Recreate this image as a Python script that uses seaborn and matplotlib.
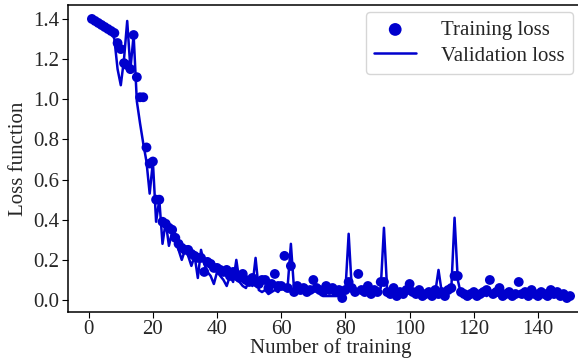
import pandas as pd
import numpy as np
import seaborn as sns
import matplotlib.pyplot as plt

# epochs 1..150
epochs = list(range(1, 151))

# training loss (dots)
train_loss = [
    1.40, 1.39, 1.38, 1.37, 1.36, 1.35, 1.34, 1.33, 1.28, 1.25,
    1.18, 1.17, 1.15, 1.32, 1.11, 1.01, 1.01, 0.76, 0.68, 0.69,
    0.50, 0.50, 0.39, 0.38, 0.36, 0.35, 0.31, 0.28, 0.26, 0.25,
    0.25, 0.23, 0.22, 0.21, 0.21, 0.14, 0.19, 0.18, 0.16, 0.16,
    0.15, 0.14, 0.15, 0.12, 0.14, 0.12, 0.11, 0.13, 0.10, 0.09,
    0.11, 0.09, 0.08, 0.10, 0.10, 0.06, 0.08, 0.13, 0.07, 0.07,
    0.22, 0.06, 0.17, 0.04, 0.07, 0.05, 0.06, 0.04, 0.05, 0.10,
    0.06, 0.05, 0.04, 0.07, 0.05, 0.06, 0.04, 0.05, 0.01, 0.05,
    0.09, 0.06, 0.04, 0.13, 0.05, 0.04, 0.07, 0.03, 0.05, 0.04,
    0.09, 0.09, 0.04, 0.03, 0.06, 0.02, 0.04, 0.03, 0.05, 0.08,
    0.04, 0.03, 0.05, 0.02, 0.03, 0.04, 0.02, 0.05, 0.03, 0.04,
    0.02, 0.05, 0.06, 0.12, 0.12, 0.04, 0.03, 0.02, 0.03, 0.04,
    0.02, 0.03, 0.04, 0.05, 0.10, 0.03, 0.04, 0.06, 0.02, 0.03,
    0.04, 0.02, 0.03, 0.09, 0.03, 0.04, 0.02, 0.05, 0.03, 0.02,
    0.04, 0.03, 0.02, 0.05, 0.03, 0.04, 0.02, 0.03, 0.01, 0.02,
]

# validation loss (line)
val_loss = [
    1.40, 1.39, 1.38, 1.37, 1.36, 1.35, 1.34, 1.30, 1.15, 1.07,
    1.20, 1.39, 1.15, 1.32, 0.99, 0.88, 0.78, 0.69, 0.53, 0.69,
    0.39, 0.50, 0.28, 0.39, 0.27, 0.34, 0.30, 0.25, 0.20, 0.25,
    0.22, 0.17, 0.22, 0.11, 0.25, 0.18, 0.14, 0.12, 0.08, 0.14,
    0.12, 0.10, 0.07, 0.12, 0.09, 0.20, 0.09, 0.07, 0.06, 0.10,
    0.07, 0.21, 0.05, 0.04, 0.05, 0.03, 0.04, 0.05, 0.04, 0.06,
    0.05, 0.07, 0.28, 0.05, 0.05, 0.04, 0.05, 0.06, 0.05, 0.04,
    0.05, 0.04, 0.02, 0.02, 0.02, 0.02, 0.02, 0.02, 0.03, 0.05,
    0.33, 0.05, 0.04, 0.05, 0.04, 0.03, 0.04, 0.05, 0.04, 0.05,
    0.06, 0.36, 0.05, 0.04, 0.03, 0.04, 0.03, 0.02, 0.04, 0.03,
    0.04, 0.03, 0.02, 0.04, 0.03, 0.04, 0.03, 0.04, 0.15, 0.04,
    0.03, 0.05, 0.06, 0.41, 0.10, 0.03, 0.03, 0.02, 0.03, 0.03,
    0.02, 0.03, 0.03, 0.02, 0.03, 0.03, 0.02, 0.03, 0.02, 0.02,
    0.03, 0.02, 0.03, 0.02, 0.03, 0.02, 0.03, 0.02, 0.02, 0.03,
    0.02, 0.03, 0.02, 0.02, 0.03, 0.02, 0.03, 0.02, 0.01, 0.02,
]

df = pd.DataFrame({'epoch': epochs, 'train': train_loss, 'val': val_loss})

sns.set_style('ticks')
plt.rcParams['font.family'] = ['Liberation Serif', 'DejaVu Serif']

blue = '#0000CD'

fig = plt.figure(figsize=(5.78, 3.58), dpi=100)
# axes runs past the right edge like the cropped original
ax = fig.add_axes([68 / 578, 46 / 358, 526 / 578, 307 / 358])

sns.scatterplot(data=df, x='epoch', y='train', ax=ax, color=blue, s=50,
                edgecolor='none', label='Training loss', zorder=2)
sns.lineplot(data=df, x='epoch', y='val', ax=ax, color=blue, linewidth=1.8,
             label='Validation loss', zorder=3)

ax.set_xticks(np.arange(0, 141, 20))
ax.set_yticks(np.arange(0, 1.41, 0.2))
ax.tick_params(labelsize=15, length=4, color='black', pad=2)
ax.set_xlabel('Number of training', fontsize=15, labelpad=-1)
ax.set_ylabel('Loss function', fontsize=15, labelpad=4)
for sp in ax.spines.values():
    sp.set_color('black')
    sp.set_linewidth(1.1)

ax.legend(loc='upper right', bbox_to_anchor=(573 / 578, 1 - 12 / 358),
          bbox_transform=fig.transFigure, borderaxespad=0, fontsize=15,
          frameon=True, handlelength=2.0, markerscale=1.3,
          borderpad=0.4, labelspacing=0.3, handletextpad=1.2)

fig.savefig('out.png', dpi=100)
